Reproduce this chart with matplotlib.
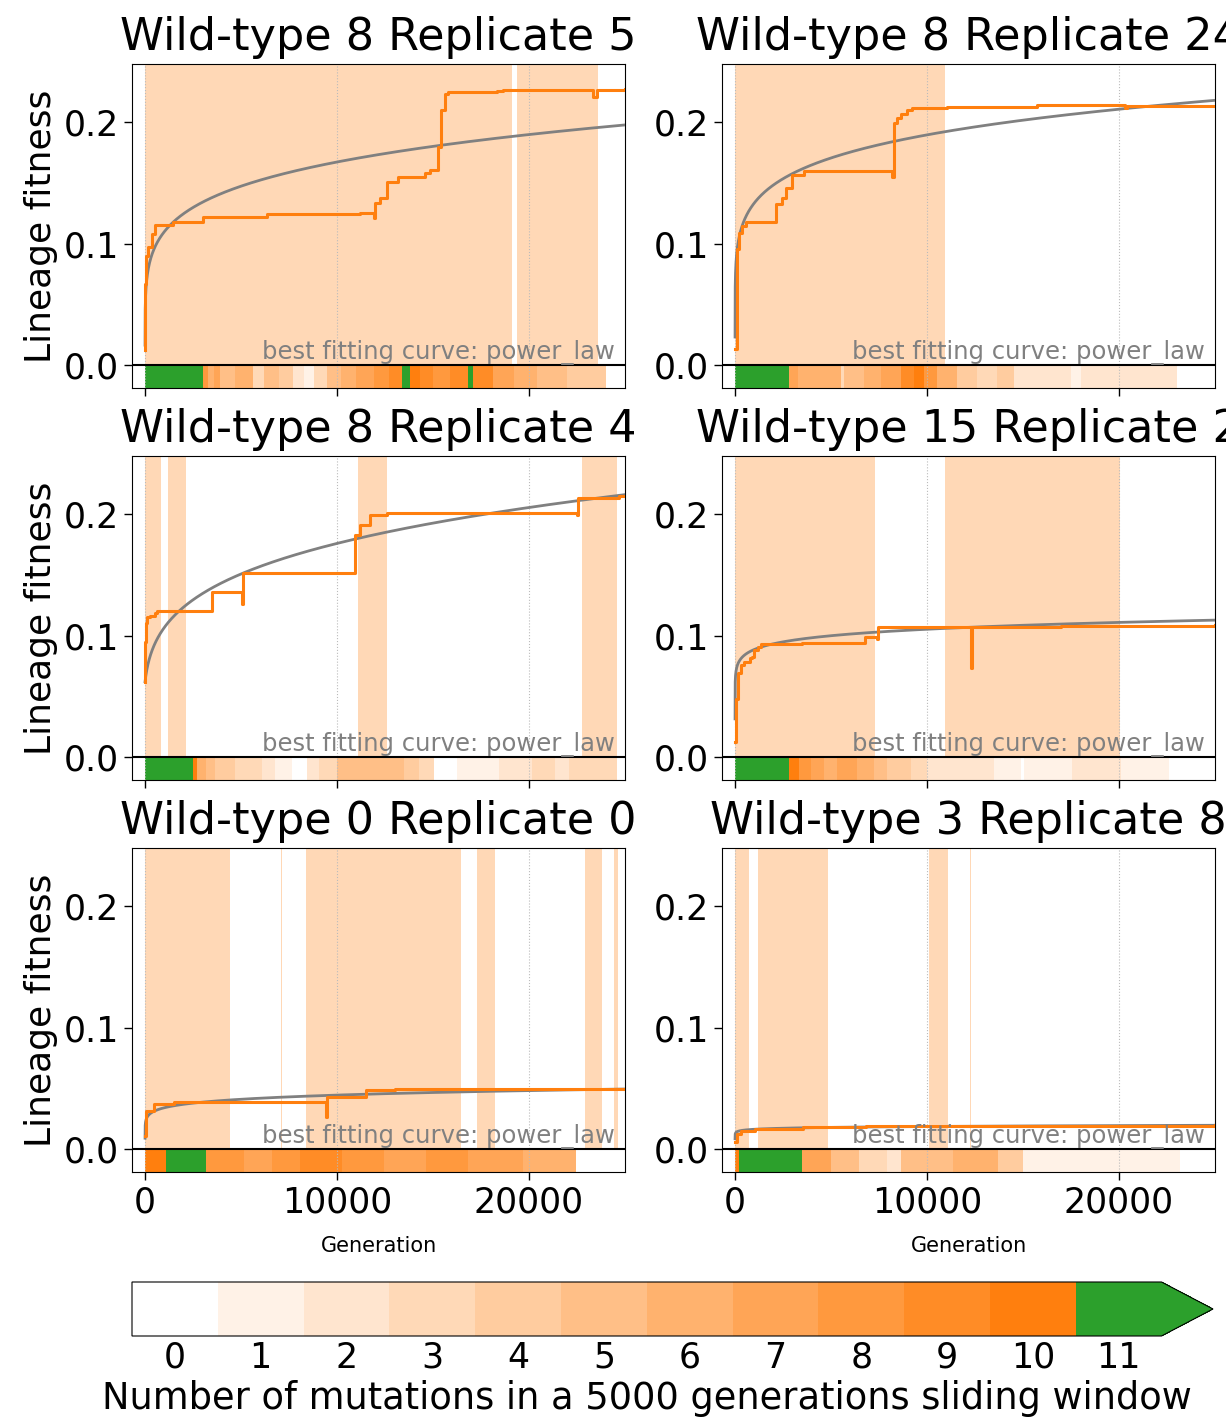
import numpy as np
import matplotlib.pyplot as plt
from matplotlib.colors import ListedColormap, BoundaryNorm, to_rgb
from matplotlib.cm import ScalarMappable

titles = ["Wild-type 8 Replicate 5", "Wild-type 8 Replicate 24",
          "Wild-type 8 Replicate 4", "Wild-type 15 Replicate 2",
          "Wild-type 0 Replicate 0", "Wild-type 3 Replicate 8"]

# lineage fitness along the line of descent (generation, fitness)
gen_1 = [0, 20, 50, 170, 350, 520, 1480, 3040, 6340, 11200, 11900, 11980, 12240, 12590,
         13190, 14580, 14840, 15280, 15400, 15620, 15800, 18320, 18660, 23350, 23520, 25000]
fit_1 = [0.012, 0.067, 0.090, 0.097, 0.108, 0.115, 0.118, 0.122, 0.124, 0.1254, 0.121, 0.1336,
         0.1372, 0.151, 0.1545, 0.158, 0.1605, 0.180, 0.2104, 0.2236, 0.225, 0.2255, 0.2263,
         0.221, 0.2265, 0.2272]
gen_2 = [0, 90, 120, 210, 380, 560, 2120, 2470, 2640, 2990, 3590, 8190, 8280, 8450, 8630,
         8940, 9240, 11060, 15750, 20300, 20420, 25000]
fit_2 = [0.013, 0.061, 0.0955, 0.109, 0.1147, 0.1182, 0.133, 0.1374, 0.1462, 0.1564, 0.160,
         0.1545, 0.1997, 0.2035, 0.2066, 0.2099, 0.2121, 0.2128, 0.2141, 0.2115, 0.2138, 0.2138]
gen_3 = [0, 20, 60, 100, 280, 540, 630, 3490, 5050, 5100, 10920, 10960, 11220, 11740, 12600,
         16000, 22500, 22560, 24670, 25000]
fit_3 = [0.062, 0.095, 0.110, 0.1155, 0.116, 0.119, 0.1204, 0.136, 0.126, 0.1512, 0.180, 0.183,
         0.191, 0.199, 0.2014, 0.2007, 0.199, 0.213, 0.215, 0.215]
gen_4 = [0, 50, 160, 300, 470, 780, 900, 1010, 1180, 1350, 3500, 6750, 7400, 7450, 12290,
         12340, 17000, 25000]
fit_4 = [0.0126, 0.048, 0.0689, 0.0757, 0.0779, 0.0812, 0.0826, 0.088, 0.0908, 0.0927, 0.094,
         0.099, 0.0975, 0.1073, 0.073, 0.1073, 0.1081, 0.1086]
gen_5 = [0, 70, 440, 1530, 9450, 9500, 11530, 13000, 25000]
fit_5 = [0.011, 0.0316, 0.037, 0.039, 0.026, 0.0425, 0.0485, 0.0495, 0.0497]
gen_6 = [0, 110, 290, 1020, 3560, 6820, 12000, 25000]
fit_6 = [0.0055, 0.012, 0.015, 0.0165, 0.0178, 0.0187, 0.019, 0.0198]

# power law fit parameters: a * (t + t0) ** b
fit_a = [0.0310, 0.0465, 0.0219, 0.0527, 0.01519, 0.0109]
fit_b = [0.183, 0.1526, 0.226, 0.0751, 0.1164, 0.0574]
fit_t0 = [0.03, 0.01, 100, 0.001, 0.01, 0.01]

# shaded periods (start, end generation)
spans_1 = [(0, 19110), (19370, 23610)]
spans_2 = [(0, 10950)]
spans_3 = [(0, 820), (1210, 2120), (11110, 12590), (22740, 24570)]
spans_4 = [(0, 7310), (10950, 20070)]
spans_5 = [(0, 4440), (7060, 7140), (8360, 16440), (17270, 18250), (22910, 23780), (24440, 24650)]
spans_6 = [(0, 730), (1200, 4830), (10090, 11110), (12240, 12300)]

# mutations in sliding window: segment edges and counts
edges_1 = [0, 3000, 3300, 3600, 3900, 4700, 5600, 6200, 7000, 7700, 8300, 8800, 9500, 10200,
           11000, 11900, 12700, 13400, 13800, 14300, 15000, 15900, 16800, 17100, 18100, 19200,
           20400, 22000, 24000]
count_1 = [11, 8, 6, 7, 5, 6, 3, 5, 4, 2, 1, 3, 5, 6, 7, 8, 9, 11, 10, 9, 8, 9, 11, 9, 7, 6,
           5, 4]
edges_2 = [0, 2810, 3300, 4640, 5500, 5680, 6720, 7600, 8630, 9300, 9840, 10540, 11580, 12620,
           13660, 14530, 17480, 18000, 23040]
count_2 = [11, 7, 6, 6, 3, 5, 6, 7, 9, 10, 8, 6, 4, 3, 4, 2, 1, 2]
edges_3 = [0, 2500, 2710, 3200, 3660, 4700, 6090, 6790, 7660, 8440, 9050, 10000, 13470, 14250,
           15040, 16250, 18420, 20160, 21370, 22070, 24580]
count_3 = [11, 10, 6, 5, 4, 3, 2, 1, 0, 2, 3, 5, 4, 3, 0, 1, 2, 3, 2, 3]
edges_4 = [0, 2810, 3330, 3940, 4640, 5330, 6370, 7240, 7930, 9150, 10020, 13490, 14880,
           15050, 17570, 20090, 22600]
count_4 = [11, 10, 8, 7, 6, 7, 6, 5, 4, 3, 2, 1, 0, 1, 2, 1]
edges_5 = [0, 1090, 3160, 5160, 6620, 8070, 10250, 12440, 14620, 16800, 19710, 22440]
count_5 = [10, 11, 8, 7, 8, 9, 8, 7, 8, 7, 6]
edges_6 = [0, 220, 3480, 5010, 6460, 7910, 8640, 11360, 13720, 14990, 23160]
count_6 = [10, 11, 7, 5, 3, 2, 5, 6, 4, 1]

panels = [
    (gen_1, fit_1, spans_1, edges_1, count_1),
    (gen_2, fit_2, spans_2, edges_2, count_2),
    (gen_3, fit_3, spans_3, edges_3, count_3),
    (gen_4, fit_4, spans_4, edges_4, count_4),
    (gen_5, fit_5, spans_5, edges_5, count_5),
    (gen_6, fit_6, spans_6, edges_6, count_6),
]

plt.rcParams['font.family'] = ['DejaVu Sans']
plt.rcParams['font.size'] = 25

orange = to_rgb('tab:orange')
shades = [tuple(1 - k / 10 * (1 - c) for c in orange) for k in range(11)]
cmap = ListedColormap(shades + [to_rgb('tab:green')])
cmap.set_over('tab:green')
norm = BoundaryNorm(np.arange(-0.5, 12.5, 1), cmap.N)

ylo, yhi = -0.019, 0.248
frac0 = -ylo / (yhi - ylo)

fig = plt.figure(figsize=(12.26, 14.2), dpi=100)
col_x = [132, 722]
row_top = [64, 456, 848]
t = np.linspace(0, 25000, 3000)

for i, (g, f, spans, edges, counts) in enumerate(panels):
    r, c = divmod(i, 2)
    ax = fig.add_axes([col_x[c] / 1226, 1 - (row_top[r] + 324) / 1420, 493 / 1226, 324 / 1420])
    for s, e in spans:
        ax.axvspan(s, e, ymin=frac0, ymax=1, color='tab:orange', alpha=0.3, lw=0)
    ax.pcolormesh(edges, [ylo, 0], np.array(counts)[None, :], cmap=cmap, norm=norm)
    ax.axhline(0, color='black', lw=1.5, zorder=3)
    ax.plot(t, fit_a[i] * (t + fit_t0[i]) ** fit_b[i], color='grey', lw=2, zorder=4)
    ax.plot(g, f, color='tab:orange', lw=2.2, drawstyle='steps-post', zorder=5)
    ax.text(0.98, frac0, "best fitting curve: power_law", transform=ax.transAxes,
            ha='right', va='bottom', color='grey', fontsize=17.5, zorder=6)
    ax.set_xlim(-680, 25000)
    ax.set_ylim(ylo, yhi)
    ax.set_yticks([0.0, 0.1, 0.2])
    ax.set_xticks([0, 10000, 20000])
    ax.grid(axis='x', color='#bbbbbb', linestyle=':', linewidth=0.8)
    ax.tick_params(length=6, width=1)
    ax.set_title(titles[i], fontsize=32, pad=10)
    if c == 0:
        ax.set_ylabel("Lineage fitness", fontsize=26)
    if r < 2:
        ax.tick_params(labelbottom=False)
    else:
        ax.set_xlabel("Generation", fontsize=15, labelpad=12)

cax = fig.add_axes([132 / 1226, 1 - 1336 / 1420, 1081 / 1226, 54 / 1420])
cb = fig.colorbar(ScalarMappable(norm=norm, cmap=cmap), cax=cax, orientation='horizontal',
                  extend='max', ticks=range(12))
cb.ax.minorticks_off()
cb.ax.tick_params(which='both', length=0)
cb.set_label("Number of mutations in a 5000 generations sliding window", fontsize=26.5)

fig.savefig("out.png", dpi=100)
